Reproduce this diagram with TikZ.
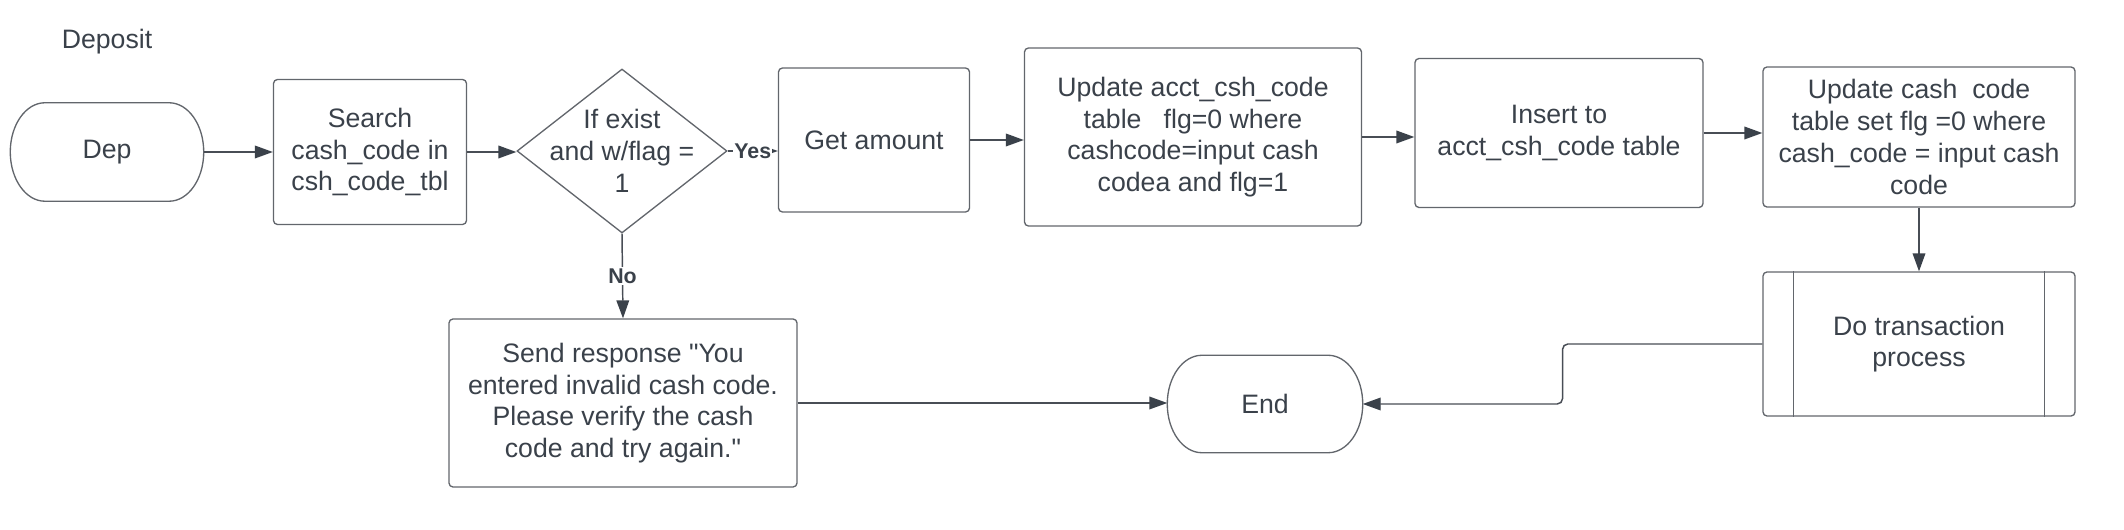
\documentclass[tikz,border=0pt]{standalone}
\usepackage{fontspec}
\setmainfont{Liberation Sans}[Ligatures=TeXOff]
\usetikzlibrary{shapes.geometric,calc,arrows.meta}

\definecolor{inkgrey}{RGB}{58,65,74}
\definecolor{edgegrey}{RGB}{72,77,85}
\definecolor{boxgrey}{RGB}{98,102,108}

\tikzset{every picture/.style={line width=1.1pt}}
\tikzset{
  every node/.style={font=\fontsize{20}{23.8}\selectfont, text=inkgrey},
  procbox/.style={draw=boxgrey, line width=1pt, rounded corners=3pt, align=center, inner sep=2pt},
  decision/.style={diamond, draw=boxgrey, line width=1pt, inner sep=0pt},
  terminal/.style={draw=none, inner sep=0pt},
  txt/.style={align=center, inner sep=0pt},
  lbl/.style={fill=white, inner sep=1pt, font=\fontsize{16}{19}\selectfont\bfseries},
  arr/.style={draw=edgegrey, line width=1.1pt, -{Triangle[length=13.5pt,width=9.5pt,color=inkgrey]}}
}

% outline of a terminal: flat top and bottom, elliptic ends
\newcommand{\termline}[2]{%
  \draw[draw=boxgrey, line width=1pt]
    ([xshift=#2]#1.north west) -- ([xshift=-#2]#1.north east)
    .. controls ([xshift=-0.448*#2]#1.north east) and ($(#1.east)!0.552!(#1.north east)$) .. (#1.east)
    .. controls ($(#1.east)!0.552!(#1.south east)$) and ([xshift=-0.448*#2]#1.south east) .. ([xshift=-#2]#1.south east)
    -- ([xshift=#2]#1.south west)
    .. controls ([xshift=0.448*#2]#1.south west) and ($(#1.west)!0.552!(#1.south west)$) .. (#1.west)
    .. controls ($(#1.west)!0.552!(#1.north west)$) and ([xshift=0.448*#2]#1.north west) .. cycle;}

\begin{document}
\begin{tikzpicture}[x=0.75pt,y=0.75pt,yscale=-1,xscale=1]
\useasboundingbox (0,0) rectangle (2124,530);

% Text Node
\node[txt] (title) at (107,42) {Deposit};

%Shape: Terminal [dep]
\node[terminal, minimum width=144pt, minimum height=72.75pt] (dep) at (107,152) {Dep};
\termline{dep}{26pt}

%Shape: Rectangle [srch]
\node[procbox, minimum width=144.75pt, minimum height=108.75pt] (srch) at (370,152) {Search\\cash\_code in\\csh\_code\_tbl};

%Shape: Diamond [chk]
\node[decision, minimum width=157.5pt, minimum height=123pt] (chk) at (622,151) {};
\node[txt] (chktext) at (chk) {If exist\\and w/flag =\\1};

%Shape: Rectangle [amt]
\node[procbox, minimum width=143.25pt, minimum height=108pt] (amt) at (874,140) {Get amount};

%Shape: Rectangle [upd]
\node[procbox, minimum width=252.75pt, minimum height=133.5pt] (upd) at (1193,137) {Update acct\_csh\_code\\table\ \ \ flg=0 where\\cashcode=input cash\\codea and flg=1};

%Shape: Rectangle [ins]
\node[procbox, minimum width=216pt, minimum height=111.75pt] (ins) at (1559,133) {Insert to\\acct\_csh\_code table};

%Shape: Rectangle [updc]
\node[procbox, minimum width=234pt, minimum height=105pt] (updc) at (1919,137) {Update cash\ \ code\\table set flg =0 where\\cash\_code = input cash\\code};

%Shape: Predefined process [dotr]
\node[procbox, minimum width=234pt, minimum height=108pt] (dotr) at (1919,344) {Do transaction\\process};
\draw[draw=boxgrey, line width=1pt] ([xshift=23.25pt]dotr.north west) -- ([xshift=23.25pt]dotr.south west);
\draw[draw=boxgrey, line width=1pt] ([xshift=-23.25pt]dotr.north east) -- ([xshift=-23.25pt]dotr.south east);

%Shape: Rectangle [resp]
\node[procbox, minimum width=261pt, minimum height=126pt] (resp) at (623,403) {Send response "You\\entered invalid cash code.\\Please verify the cash\\code and try again."};

%Shape: Terminal [fin]
\node[terminal, minimum width=145.5pt, minimum height=72pt] (fin) at (1265,404) {End};
\termline{fin}{26pt}

%Connectors
\draw[arr] (dep.east) -- (srch.west);
\draw[arr] (srch.east) -- (srch.east -| chk.west);
\draw[arr] (chk.east) -- node[lbl] (yes) {Yes} (chk.east -| amt.west);
\draw[arr] (chk.south) -- node[lbl] (no) {No} (resp.north);
\draw[arr] (amt.east) -- (amt.east -| upd.west);
\draw[arr] (upd.east) -- (upd.east -| ins.west);
\draw[arr] (ins.east) -- (ins.east -| updc.west);
\draw[arr] (updc.south) -- (dotr.north);
\draw[arr, rounded corners=4pt] (dotr.west) -| ($(fin.east)!0.5!(dotr.west)$) |- (fin.east);
\draw[arr] (resp.east) -- (resp.east -| fin.west);

\end{tikzpicture}
\end{document}
